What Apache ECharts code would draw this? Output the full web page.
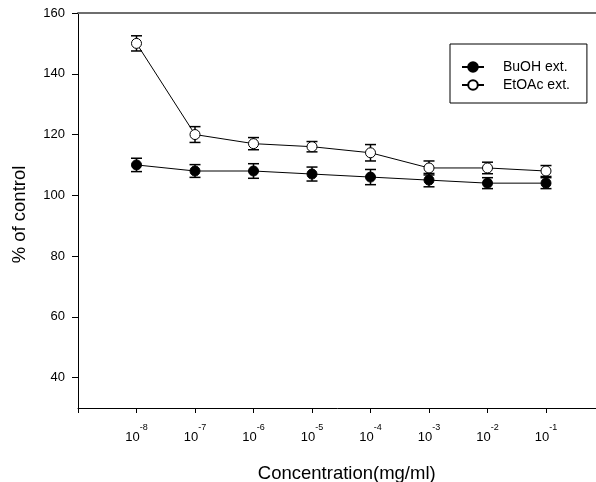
<!DOCTYPE html>
<html>
<head>
<meta charset="utf-8">
<script src="https://cdn.jsdelivr.net/npm/echarts@6/dist/echarts.min.js"></script>
<style>
html,body{margin:0;padding:0;background:#fff;}
#chart{width:596px;height:482px;}
</style>
</head>
<body>
<div id="chart"></div>
<script>
// ---- data ----
const exponents = [-8, -7, -6, -5, -4, -3, -2, -1];   // x = 10^exponent mg/ml
const buohValues = [110, 108, 108, 107, 106, 105, 104, 104];
const buohErrors = [2.2, 2.1, 2.4, 2.3, 2.5, 2.2, 1.8, 1.8];
const etoacValues = [150, 120, 117, 116, 114, 109, 109, 108];
const etoacErrors = [2.5, 2.6, 2.0, 1.7, 2.7, 2.3, 1.9, 1.8];
const yTickValues = [40, 60, 80, 100, 120, 140, 160];
const seriesNames = ['BuOH ext.', 'EtOAc ext.'];
const xTitle = 'Concentration(mg/ml)';
const yTitle = '% of control';

const FONT = '"Liberation Sans", Arial, sans-serif';

function pts(vals) { return exponents.map((e, i) => [e, vals[i]]); }
function errData(vals, errs) { return exponents.map((e, i) => [e, vals[i] - errs[i], vals[i] + errs[i]]); }

function errRender(params, api) {
  const x = api.value(0);
  const lo = api.coord([x, api.value(1)]);
  const hi = api.coord([x, api.value(2)]);
  const cap = 5.5;
  const st = { stroke: '#000', lineWidth: 1.5 };
  return {
    type: 'group',
    children: [
      { type: 'line', shape: { x1: lo[0], y1: lo[1], x2: hi[0], y2: hi[1] }, style: st },
      { type: 'line', shape: { x1: lo[0] - cap, y1: lo[1], x2: lo[0] + cap, y2: lo[1] }, style: st },
      { type: 'line', shape: { x1: hi[0] - cap, y1: hi[1], x2: hi[0] + cap, y2: hi[1] }, style: st }
    ]
  };
}

const chart = echarts.init(document.getElementById('chart'), null, { renderer: 'canvas' });
chart.setOption({
  backgroundColor: '#fff',
  animation: false,
  textStyle: { fontFamily: FONT, color: '#000' },
  grid: { left: 78, top: 13, right: -8.5, bottom: 74, containLabel: false, outerBoundsMode: 'none' },
  legend: {
    data: seriesNames,
    orient: 'vertical',
    left: 450,
    top: 44,
    padding: [16, 17, 11, 11],
    itemWidth: 22,
    itemHeight: 12,
    itemGap: 4,
    borderColor: '#000',
    borderWidth: 1,
    backgroundColor: '#fff',
    textStyle: { fontFamily: FONT, fontSize: 14, color: '#000', lineHeight: 14, padding: [0, 0, 0, 14] },
    selectedMode: false
  },
  xAxis: [{
    type: 'value',
    min: -9,
    max: 0,
    interval: 1,
    name: xTitle,
    nameLocation: 'middle',
    nameGap: 56,
    nameTextStyle: { fontFamily: FONT, fontSize: 18.5, color: '#000', padding: [0, 0, 0, 11] },
    splitLine: { show: false },
    axisLine: { show: true, onZero: false, lineStyle: { color: '#000', width: 1 } },
    axisTick: { show: true, inside: false, length: 5, interval: 0, lineStyle: { color: '#000', width: 1 } },
    axisLabel: {
      margin: 23,
      customValues: exponents,
      formatter: function (v) {
        return '{b|10}{s|' + v + '}';
      },
      rich: {
        b: { fontFamily: FONT, fontSize: 13, lineHeight: 13, color: '#000', verticalAlign: 'bottom' },
        s: { fontFamily: FONT, fontSize: 9, lineHeight: 9, color: '#000', verticalAlign: 'bottom', padding: [0, 0, 12, 0] }
      }
    }
  }, {
    type: 'value',
    position: 'top',
    min: -9,
    max: 0,
    axisLine: { show: true, onZero: false, lineStyle: { color: '#6e6e6e', width: 2 } },
    axisTick: { show: false },
    axisLabel: { show: false },
    splitLine: { show: false }
  }],
  yAxis: {
    type: 'value',
    min: 30,
    max: 160,
    name: yTitle,
    nameLocation: 'middle',
    nameGap: 49,
    nameRotate: 90,
    nameTextStyle: { fontFamily: FONT, fontSize: 18.5, color: '#000', padding: [0, 8, 0, 0] },
    splitLine: { show: false },
    axisLine: { show: true, onZero: false, lineStyle: { color: '#000', width: 1 } },
    axisTick: { show: true, length: 6, customValues: yTickValues, lineStyle: { color: '#000' } },
    axisLabel: { customValues: yTickValues, margin: 13, fontFamily: FONT, fontSize: 13, color: '#000' }
  },
  series: [
    {
      name: 'BuOH err', type: 'custom', renderItem: errRender, data: errData(buohValues, buohErrors),
      encode: { x: 0, y: [1, 2] }, z: 1, clip: false, silent: true
    },
    {
      name: 'EtOAc err', type: 'custom', renderItem: errRender, data: errData(etoacValues, etoacErrors),
      encode: { x: 0, y: [1, 2] }, z: 1, clip: false, silent: true
    },
    {
      name: seriesNames[0], type: 'line', data: pts(buohValues), z: 3,
      symbol: 'circle', symbolSize: 10,
      lineStyle: { color: '#000', width: 1 },
      itemStyle: { color: '#000', borderColor: '#000', borderWidth: 1 },
      emphasis: { disabled: true }
    },
    {
      name: seriesNames[1], type: 'line', data: pts(etoacValues), z: 3,
      symbol: 'circle', symbolSize: 10,
      lineStyle: { color: '#000', width: 1 },
      itemStyle: { color: '#fff', borderColor: '#000', borderWidth: 1 },
      emphasis: { disabled: true }
    }
  ]
});
</script>
</body>
</html>
